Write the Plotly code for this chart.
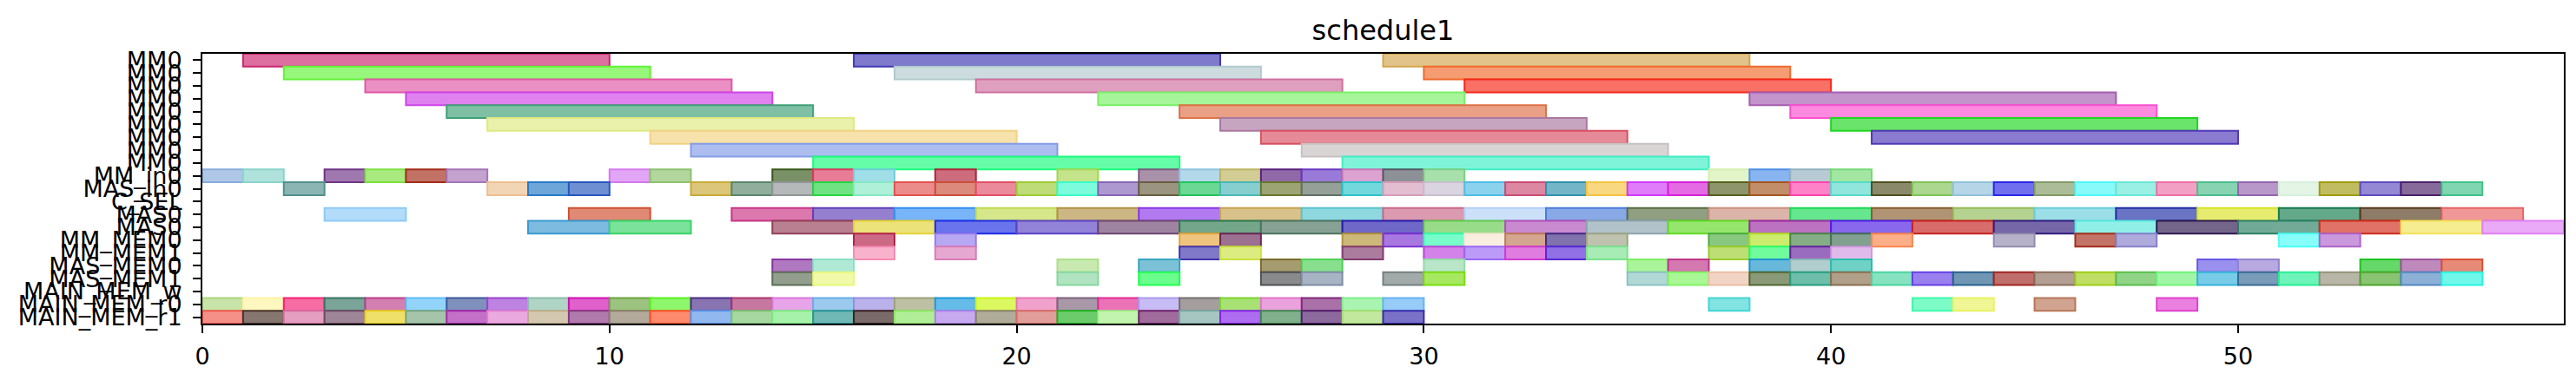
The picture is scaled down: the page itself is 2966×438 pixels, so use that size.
import plotly.graph_objects as go

# ---------------- data ----------------
row_labels = ["MM0"] * 9 + [
    "MM_in0", "MAS_in0", "C_SEL", "MAS0", "MAS0", "MM_MEM0", "MM_MEM1",
    "MAS_MEM0", "MAS_MEM1", "MAIN_MEM_w", "MAIN_MEM_r0", "MAIN_MEM_r1",
]

x_ticks = [0, 10, 20, 30, 40, 50]
title_text = "schedule1"

bar_row = []
bar_start = []
bar_end = []
bar_fill = []


def add_row(r, starts, ends, fills):
    bar_row.extend([r] * len(starts))
    bar_start.extend(starts)
    bar_end.extend(ends)
    bar_fill.extend(fills)


# MM0 rows (long tasks)
add_row(0, [1, 16, 29], [10, 25, 38], ["#dc6ea0", "#7f7acc", "#e2c48a"])
add_row(1, [2, 17, 30], [11, 26, 39], ["#96f77a", "#ccdbde", "#f59c72"])
add_row(2, [4, 19, 31], [13, 28, 40], ["#ea90c4", "#dfa0bf", "#f87066"])
add_row(3, [5, 22, 38], [14, 31, 47], ["#df82f0", "#a6f59a", "#c393cb"])
add_row(4, [6, 24, 39], [15, 33, 48], ["#7fc0a4", "#e9a084", "#fe8ae0"])
add_row(5, [7, 25, 40], [16, 34, 49], ["#e9f1ab", "#c6a5c0", "#6ae46a"])
add_row(6, [11, 26, 41], [20, 35, 50], ["#f7e1ac", "#e58a96", "#8a7ad0"])
add_row(7, [12, 27], [21, 36], ["#adbdf0", "#dad5d5"])
add_row(8, [15, 28], [24, 37], ["#66fda8", "#80f4d8"])

# MM_in0
mm_in0_start = [0, 1, 3, 4, 5, 6, 10, 11, 14, 15, 16, 18, 21, 23, 24, 25, 26, 27, 28, 29, 30, 37, 38, 39, 40]
mm_in0_fill = ["#b0c8e8", "#b0e2dc", "#a078b0", "#a8ea80", "#c27265", "#c4a2cf", "#e3a5f5", "#b3d69e",
               "#7a9066", "#e87c96", "#a0dee8", "#cd6c7c", "#c3e48a", "#a991aa", "#b3d8ea", "#d2cd95",
               "#9069a8", "#9a7ad8", "#dca2d0", "#8e9097", "#a8e0ac", "#e2f5c8", "#88b4f0", "#b8cbd4",
               "#a2e6a2"]
add_row(9, mm_in0_start, [s + 1 for s in mm_in0_start], mm_in0_fill)

# MAS_in0
mas_in0_start = [2, 7, 8, 9, 12, 13, 14, 15, 16, 17, 18, 19, 20, 21, 22, 23, 24, 25, 26, 27, 28, 29,
                 30, 31, 32, 33, 34, 35, 36, 37, 38, 39, 40, 41, 42, 43, 44, 45, 46, 47, 48, 49,
                 50, 51, 52, 53, 54, 55]
mas_in0_fill = ["#8bb5b2", "#f2d5b5", "#6ea6d9", "#6f8fd3", "#dbc67a", "#91ae9c", "#b5b9b9", "#6fe382",
                "#aef0d8", "#ec8c8a", "#dc8a7c", "#ea8a9a", "#bedc78", "#7cfcdc", "#ae98d0", "#9a9480",
                "#6bd894", "#87cfcf", "#9ba472", "#95a098", "#72d8dc", "#e2bed0", "#dad4e0", "#8ad2ee",
                "#dc88a2", "#74b6c8", "#f8d880", "#e07cfa", "#e46be4", "#8e956a", "#c28e6a", "#fe82c8",
                "#90e6dc", "#8a8a6a", "#abd78e", "#b6d6e8", "#7070ee", "#acbc98", "#88fafa", "#9af0e4",
                "#f2a0c4", "#88d4b2", "#b898c8", "#e4f5e6", "#c0bd60", "#9488d4", "#876a9a", "#80d6b0"]
add_row(10, mas_in0_start, [s + 1 for s in mas_in0_start], mas_in0_fill)

# MAS0 (first)
mas0_a_start = [3, 9, 13, 15, 17, 19, 21, 23, 25, 27, 29, 31, 33, 35, 37, 39, 41, 43, 45, 47, 49, 51, 53, 55]
mas0_a_fill = ["#b2dcfa", "#e08a76", "#dc78ae", "#9580d0", "#78b4f8", "#d6e68a", "#ccb784", "#b27af0",
               "#d9c18b", "#90d8e0", "#dc9ab0", "#cce0fa", "#88a8e6", "#909e82", "#dcb4aa", "#66e68e",
               "#b09474", "#b6d290", "#9cdee8", "#6a74c4", "#e6ec70", "#64a88a", "#8e7c68", "#f09898"]
add_row(12, mas0_a_start, [s + 2 for s in mas0_a_start], mas0_a_fill)

# MAS0 (second)
mas0_b_start = [8, 10, 14, 16, 18, 20, 22, 24, 26, 28, 30, 32, 34, 36, 38, 40, 42, 44, 46, 48, 50, 52, 54, 56]
mas0_b_fill = ["#7dbbe0", "#7ae29a", "#b88090", "#ece27a", "#6a74ec", "#9282d8", "#9e84a0", "#74a68a",
               "#87a294", "#7068c8", "#98dc8a", "#ca8ad0", "#b2c2ca", "#96e66e", "#bc72c0", "#8a68ee",
               "#d86c6a", "#7668a8", "#90f0e8", "#74668a", "#72aa98", "#e07268", "#f6ec90", "#eaaaf8"]
add_row(13, mas0_b_start, [s + 2 for s in mas0_b_start], mas0_b_fill)

# MM_MEM0
mm_mem0_start = [16, 18, 24, 25, 28, 29, 30, 31, 32, 33, 34, 37, 38, 39, 40, 41, 44, 46, 47, 51, 52]
mm_mem0_fill = ["#cc6a86", "#b8a8f4", "#eec47e", "#9c7090", "#cdb87a", "#a878e0", "#78fcca", "#faeee0",
                "#d4a690", "#8072ac", "#bec2ae", "#88c880", "#cbec6c", "#86ae86", "#82a090", "#fcae88",
                "#b6b2ca", "#c27468", "#aeaadc", "#88fefa", "#ca98dc"]
add_row(14, mm_mem0_start, [s + 1 for s in mm_mem0_start], mm_mem0_fill)

# MM_MEM1
mm_mem1_start = [16, 18, 24, 25, 28, 30, 31, 32, 33, 34, 37, 38, 39, 40]
mm_mem1_fill = ["#f8b2cc", "#e6a8d0", "#8078c8", "#dcec80", "#ac7c9e", "#d282e8", "#bc9af8", "#e07ce0",
                "#9070e4", "#a6ecb4", "#bcde74", "#70fc9c", "#9a6cc0", "#e0baea"]
add_row(15, mm_mem1_start, [s + 1 for s in mm_mem1_start], mm_mem1_fill)

# MAS_MEM0
mas_mem0_start = [14, 15, 21, 23, 26, 27, 30, 35, 36, 38, 39, 40, 49, 50, 53, 54, 55]
mas_mem0_fill = ["#b078c0", "#b0ead6", "#c8eab0", "#7cc2d6", "#a69c70", "#88e08e", "#b8e6c6", "#aaf49a",
                 "#d478b0", "#68b8dc", "#b0cece", "#70d2c6", "#9a90ee", "#b8aae0", "#66d86a", "#be8abc",
                 "#e88a78"]
add_row(16, mas_mem0_start, [s + 1 for s in mas_mem0_start], mas_mem0_fill)

# MAS_MEM1
mas_mem1_start = [14, 15, 21, 23, 26, 27, 29, 30, 35, 36, 37, 38, 39, 40, 41, 42, 43, 44, 45, 46, 47,
                  48, 49, 50, 51, 52, 53, 54, 55]
mas_mem1_fill = ["#939e8f", "#f0faa8", "#b0e4c0", "#6afe8c", "#888a8c", "#a8b4c4", "#a2aaaa", "#a6e860",
                 "#b2d8d6", "#aaf796", "#f2d4c4", "#8a9a78", "#6ebeaa", "#b0a08a", "#86e2c0", "#9a80ee",
                 "#7096b4", "#c06e6c", "#b29e92", "#bede64", "#90d488", "#a0f6a6", "#78cce8", "#7a9cb8",
                 "#6ef4b8", "#b8b6a6", "#88c472", "#8cb0d6", "#70f8ea"]
add_row(17, mas_mem1_start, [s + 1 for s in mas_mem1_start], mas_mem1_fill)

# MAIN_MEM_r0
main_r0_start = list(range(0, 30)) + [37, 42, 43, 45, 48]
main_r0_fill = ["#c8e4a8", "#fef8c0", "#f86ca4", "#7aa498", "#d47fb2", "#92d4fa", "#8090bc", "#be82e0",
                "#b0d4c6", "#e060cc", "#9cc480", "#8ef66a", "#8874b0", "#c678a0", "#e8a4e8", "#9ccaee",
                "#bab2ea", "#bec0a4", "#66bce8", "#dcf860", "#f0a2cc", "#a898a8", "#ec72b8", "#c8bcf4",
                "#a49e9e", "#a8e274", "#eaa2dc", "#aa70a8", "#aaf4b2", "#98ccf8", "#82e4e2", "#7efcc8",
                "#f0f696", "#d0a490", "#ea80e0"]
add_row(19, main_r0_start, [s + 1 for s in main_r0_start], main_r0_fill)

# MAIN_MEM_r1
main_r1_start = list(range(0, 30))
main_r1_fill = ["#f49088", "#857670", "#e49ec0", "#9e8698", "#eee068", "#a6c4aa", "#c470c8", "#eaaae0",
                "#d4c8b0", "#b07aac", "#b3aa9c", "#fe8a6e", "#92b8f0", "#a8d8a2", "#a6f2aa", "#70b8b6",
                "#7a6a6a", "#b2ee98", "#c8aaf0", "#b0ac9a", "#e29e9a", "#6ccc6c", "#c2f4b0", "#a06c9c",
                "#a6c6c2", "#ae6cf0", "#80b08c", "#8c6a9e", "#c2e8a0", "#7a72c8"]
add_row(20, main_r1_start, [s + 1 for s in main_r1_start], main_r1_fill)


# ---------------- styling helpers ----------------
def edge_of(hexc):
    h = hexc.lstrip("#")
    rgb = [int(h[i:i + 2], 16) for i in (0, 2, 4)]
    e = [max(0, min(255, round(1.5 * c - 127.5))) for c in rgb]
    return "rgb(%d,%d,%d)" % tuple(e)


bar_edge = [edge_of(c) for c in bar_fill]
durations = [e - s for s, e in zip(bar_start, bar_end)]

FONT = "DejaVu Sans"

# the page body has an 8px margin, so the figure is drawn 8px in from the top-left
FIG_W, FIG_H = 2958, 430

fig = go.Figure(
    go.Bar(
        orientation="h",
        y=bar_row,
        x=durations,
        base=bar_start,
        width=1.0,
        marker=dict(color=bar_fill, line=dict(color=bar_edge, width=2)),
        hoverinfo="skip",
        showlegend=False,
    )
)

fig.update_layout(
    width=FIG_W,
    height=FIG_H,
    margin=dict(l=225, r=12, t=54, b=59),
    paper_bgcolor="white",
    plot_bgcolor="white",
    font=dict(family=FONT, size=27, color="black"),
    barmode="overlay",
    title=dict(
        text=title_text,
        x=0.5,
        xanchor="center",
        xref="paper",
        y=1 - 27.0 / FIG_H,
        yref="container",
        yanchor="middle",
        font=dict(family=FONT, size=32, color="black"),
    ),
)

fig.update_xaxes(
    range=[0, 58],
    tickvals=x_ticks,
    ticktext=[str(v) for v in x_ticks],
    ticks="outside",
    ticklen=9,
    tickwidth=2,
    tickcolor="black",
    showline=True,
    linecolor="black",
    linewidth=2,
    mirror=True,
    showgrid=False,
    zeroline=False,
    tickfont=dict(family=FONT, size=27, color="black"),
    ticklabelstandoff=4,
)

fig.update_yaxes(
    range=[20.5, -0.5],
    tickvals=list(range(len(row_labels))),
    ticktext=row_labels,
    ticks="outside",
    ticklen=9,
    tickwidth=2,
    tickcolor="black",
    showline=True,
    linecolor="black",
    linewidth=2,
    mirror=True,
    showgrid=False,
    zeroline=False,
    tickfont=dict(family=FONT, size=27, color="black"),
    ticklabelstandoff=7,
)

fig.write_html("out.html")
